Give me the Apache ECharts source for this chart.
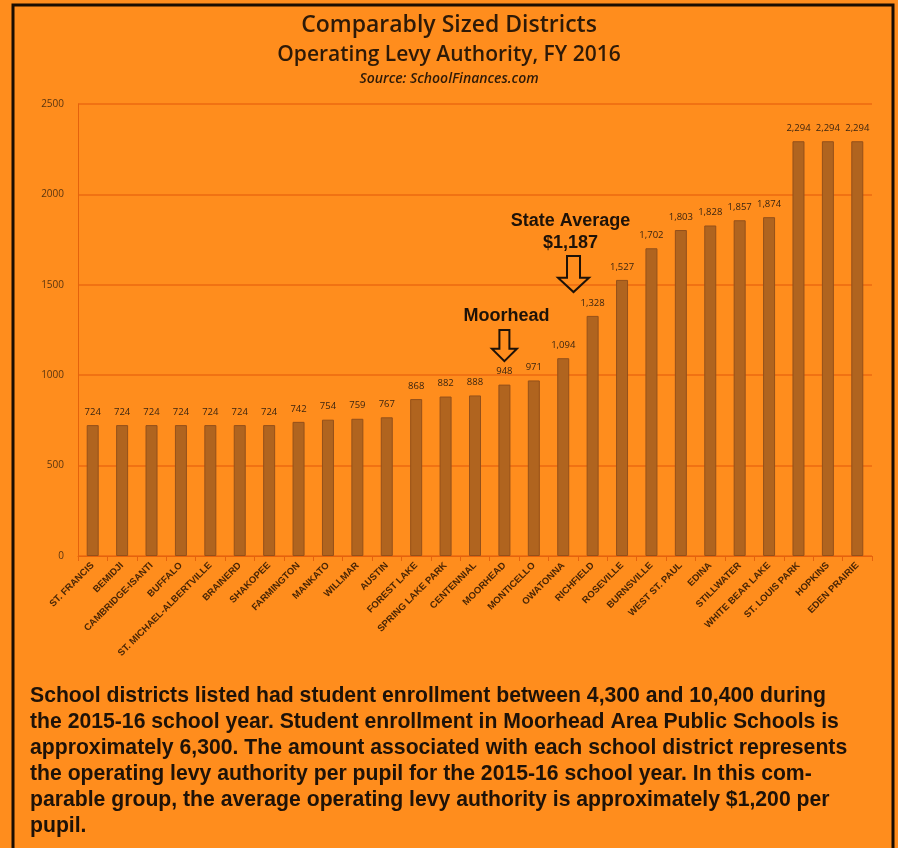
<!DOCTYPE html>
<html>
<head>
<meta charset="utf-8">
<script src="https://cdn.jsdelivr.net/npm/echarts@6/dist/echarts.min.js"></script>
<style>
  html, body { margin: 0; padding: 0; background: #ff8d1d; }
  #chart { width: 898px; height: 848px; }
</style>
</head>
<body>
<div id="chart"></div>
<script>
// Operating levy authority per pupil, FY 2016, comparably sized districts
const districts = [
  'ST. FRANCIS', 'BEMIDJI', 'CAMBRIDGE-ISANTI', 'BUFFALO', 'ST. MICHAEL-ALBERTVILLE',
  'BRAINERD', 'SHAKOPEE', 'FARMINGTON', 'MANKATO', 'WILLMAR', 'AUSTIN',
  'FOREST LAKE', 'SPRING LAKE PARK', 'CENTENNIAL', 'MOORHEAD', 'MONTICELLO',
  'OWATONNA', 'RICHFIELD', 'ROSEVILLE', 'BURNSVILLE', 'WEST ST. PAUL', 'EDINA',
  'STILLWATER', 'WHITE BEAR LAKE', 'ST. LOUIS PARK', 'HOPKINS', 'EDEN PRAIRIE'
];
const levyPerPupil = [
  724, 724, 724, 724, 724, 724, 724, 742, 754, 759, 767,
  868, 882, 888, 948, 971, 1094, 1328, 1527, 1702, 1803, 1828,
  1857, 1874, 2294, 2294, 2294
];
const yTicks = [0, 500, 1000, 1500, 2000, 2500];

// Callouts: label lines, the district the arrow points near, and the arrow's value range
const callouts = [
  { lines: ['Moorhead'], district: 'MOORHEAD', shift: 0, top: 1250, bottom: 1078,
    shaftW: 5, headW: 12.5, gap: 5, textDx: 2 },
  { lines: ['State Average', '$1,187'], district: 'OWATONNA', shift: 0.35, top: 1659, bottom: 1460,
    shaftW: 6.5, headW: 15.5, gap: 4, textDx: -3 }
];

const bodyText = [
  'School districts listed had student enrollment between 4,300 and 10,400 during',
  'the 2015-16 school year. Student enrollment in Moorhead Area Public Schools is',
  'approximately 6,300. The amount associated with each school district represents',
  'the operating levy authority per pupil for the 2015-16 school year. In this com-',
  'parable group, the average operating levy authority is approximately $1,200 per',
  'pupil.'
];

const narrow = '"Liberation Sans Narrow", "Liberation Sans", Arial, sans-serif';
const ink = '#2e1a08';

const chart = echarts.init(document.getElementById('chart'), null, { renderer: 'canvas' });

chart.setOption({
  backgroundColor: '#ff8d1d',
  animation: false,
  title: [
    { text: 'Comparably Sized Districts', left: 'center', top: 9,
      textStyle: { fontFamily: '"Open Sans", sans-serif', fontWeight: 600, fontSize: 23, color: ink } },
    { text: 'Operating Levy Authority, FY 2016', left: 'center', top: 40,
      textStyle: { fontFamily: '"Open Sans", sans-serif', fontWeight: 600, fontSize: 21, color: ink } },
    { text: 'Source: SchoolFinances.com', left: 'center', top: 67,
      textStyle: { fontFamily: '"Open Sans", sans-serif', fontWeight: 600, fontStyle: 'italic', fontSize: 14, color: ink } }
  ],
  grid: { left: 78, right: 26, top: 104, bottom: 292, containLabel: false },
  xAxis: {
    type: 'category',
    data: districts,
    axisLine: { lineStyle: { color: '#e5620c', width: 1 } },
    axisTick: { show: true, lineStyle: { color: '#e5620c' } },
    axisLabel: {
      interval: 0, rotate: 45, margin: 8,
      fontFamily: narrow, fontWeight: 'bold', fontSize: 9.5, color: '#4a2605'
    }
  },
  yAxis: {
    type: 'value', min: yTicks[0], max: yTicks[yTicks.length - 1], interval: 500,
    axisLine: { show: true, lineStyle: { color: '#e5620c' } },
    axisTick: { show: false },
    axisLabel: { fontFamily: '"Open Sans", sans-serif', fontSize: 10, color: '#5a3510', margin: 14,
      formatter: v => String(v) },
    splitLine: { lineStyle: { color: '#ec6a10', width: 1.5 } }
  },
  series: [{
    type: 'bar',
    data: levyPerPupil,
    barWidth: 12,
    itemStyle: { color: '#b0641f', borderColor: '#94501a', borderWidth: 1 },
    label: {
      show: true, position: 'top', distance: 8,
      fontFamily: '"Open Sans", sans-serif', fontSize: 9.5, color: '#3a2410',
      formatter: p => p.value.toLocaleString('en-US')
    }
  }]
});

// Hollow down-arrow callouts, the explanatory paragraph and the frame
function drawOverlay() {
  const els = [];
  callouts.forEach(c => {
    const idx = districts.indexOf(c.district);
    const x0 = chart.convertToPixel({ xAxisIndex: 0 }, idx);
    const x1 = chart.convertToPixel({ xAxisIndex: 0 }, idx + 1);
    const x = x0 + c.shift * (x1 - x0);
    const yTop = chart.convertToPixel({ yAxisIndex: 0 }, c.top);
    const yBot = chart.convertToPixel({ yAxisIndex: 0 }, c.bottom);
    const h = yBot - yTop;
    const headH = h * 0.4;
    els.push({
      type: 'polygon',
      shape: { points: [
        [x - c.shaftW, yTop], [x + c.shaftW, yTop], [x + c.shaftW, yBot - headH],
        [x + c.headW, yBot - headH], [x, yBot], [x - c.headW, yBot - headH],
        [x - c.shaftW, yBot - headH]
      ] },
      style: { fill: 'transparent', stroke: '#1e1208', lineWidth: 2 }
    });
    c.lines.forEach((t, i) => {
      els.push({
        type: 'text',
        x: x + c.textDx, y: yTop - c.gap - (c.lines.length - 1 - i) * 22,
        style: {
          text: t, align: 'center', verticalAlign: 'bottom',
          font: 'bold 18px "Liberation Sans", Arial, sans-serif', fill: '#1e1208'
        }
      });
    });
  });
  els.push({
    type: 'text', left: 30, top: 683,
    style: {
      text: bodyText.join('\n'),
      font: 'bold 21.2px ' + narrow, lineHeight: 26, fill: '#1e1208'
    }
  });
  els.push({
    type: 'polyline',
    shape: { points: [[13, 848], [13, 5], [893, 5], [893, 848]] },
    style: { stroke: '#1a0d02', lineWidth: 3, fill: 'none' }
  });
  chart.setOption({ graphic: els });
}
drawOverlay();
</script>
</body>
</html>
